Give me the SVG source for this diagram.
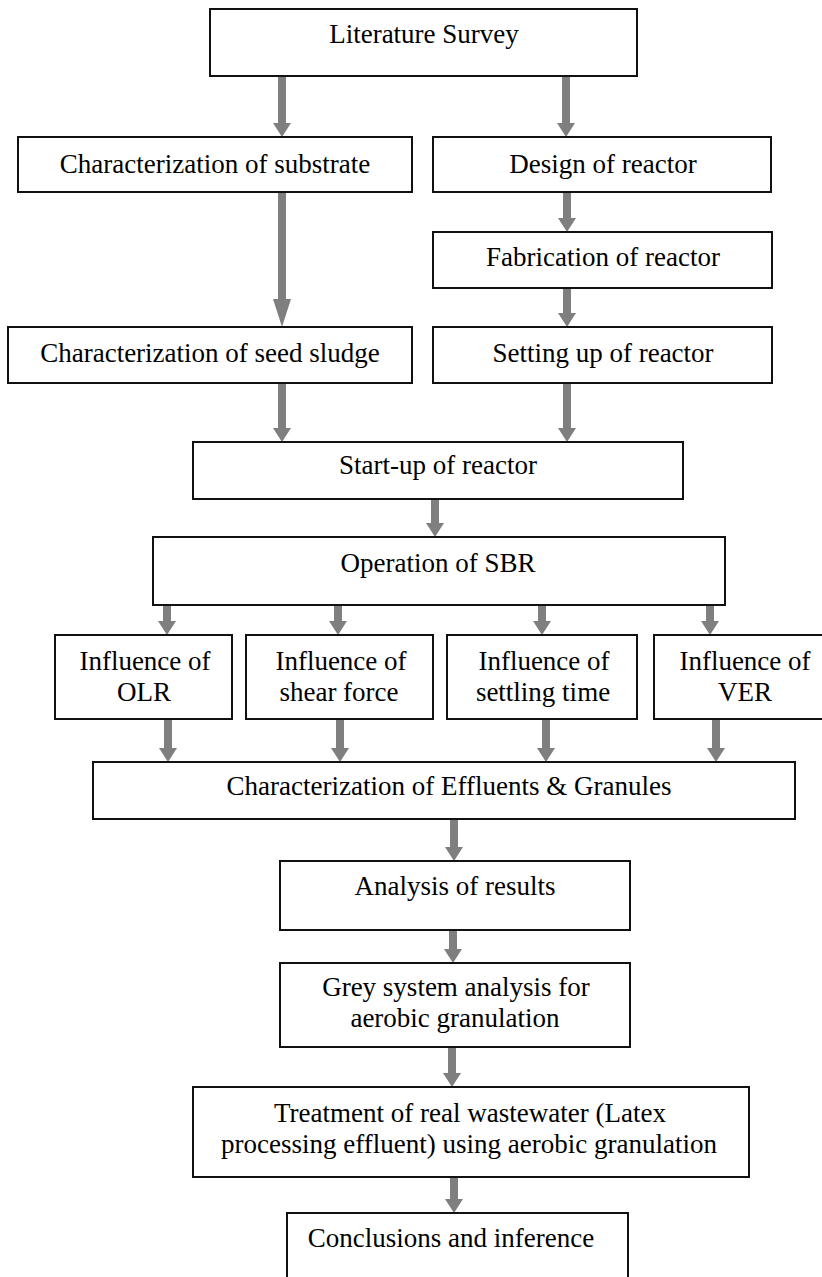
<svg xmlns="http://www.w3.org/2000/svg" width="822" height="1277" viewBox="0 0 822 1277">
<style>
.box{fill:#fff;stroke:#111;stroke-width:2}
.t{font-family:"Liberation Serif","Times New Roman",serif;font-size:27px;fill:#000;text-anchor:middle}
.arr{stroke:#7f7f7f;stroke-width:8;fill:none;marker-end:url(#ah)}
.arrL{stroke:#7f7f7f;stroke-width:8;fill:none;marker-end:url(#ahL)}
</style>
<defs>
<marker id="ah" markerUnits="userSpaceOnUse" viewBox="0 0 14 18" refX="0" refY="9" markerWidth="14" markerHeight="18" orient="auto"><path d="M0,0 L14,9 L0,18 Z" fill="#7f7f7f"/></marker>
<marker id="ahL" markerUnits="userSpaceOnUse" viewBox="0 0 28 18" refX="0" refY="9" markerWidth="28" markerHeight="18" orient="auto"><path d="M0,0 L28,9 L0,18 Z" fill="#7f7f7f"/></marker>
</defs>
<rect width="822" height="1277" fill="#fff"/>
<g id="connectors">
<line class="arr" x1="282" y1="76" x2="282" y2="123"/>
<line class="arr" x1="566" y1="76" x2="566" y2="123"/>
<line class="arrL" x1="282" y1="192" x2="282" y2="299"/>
<line class="arr" x1="567" y1="192" x2="567" y2="218"/>
<line class="arr" x1="567" y1="288" x2="567" y2="313"/>
<line class="arr" x1="282" y1="383" x2="282" y2="428"/>
<line class="arr" x1="567" y1="383" x2="567" y2="428"/>
<line class="arr" x1="435" y1="499" x2="435" y2="523"/>
<line class="arr" x1="167" y1="605" x2="167" y2="621"/>
<line class="arr" x1="338" y1="605" x2="338" y2="621"/>
<line class="arr" x1="542" y1="605" x2="542" y2="621"/>
<line class="arr" x1="710" y1="605" x2="710" y2="621"/>
<line class="arr" x1="168" y1="719" x2="168" y2="748"/>
<line class="arr" x1="340" y1="719" x2="340" y2="748"/>
<line class="arr" x1="546" y1="719" x2="546" y2="748"/>
<line class="arr" x1="716" y1="719" x2="716" y2="748"/>
<line class="arr" x1="454" y1="819" x2="454" y2="847"/>
<line class="arr" x1="453" y1="930" x2="453" y2="949"/>
<line class="arr" x1="452" y1="1047" x2="452" y2="1073"/>
<line class="arr" x1="454" y1="1177" x2="454" y2="1199"/>
</g>
<g id="literature"><rect class="box" x="210" y="9" width="427" height="67"/><text class="t" x="424" y="43">Literature Survey</text></g>
<g id="substrate"><rect class="box" x="18" y="137" width="394" height="55"/><text class="t" x="215" y="173">Characterization of substrate</text></g>
<g id="design"><rect class="box" x="433" y="137" width="338" height="55"/><text class="t" x="603" y="173">Design of reactor</text></g>
<g id="fabrication"><rect class="box" x="433" y="232" width="339" height="56"/><text class="t" x="603" y="266">Fabrication of reactor</text></g>
<g id="seed"><rect class="box" x="8" y="327" width="404" height="56"/><text class="t" x="210" y="362">Characterization of seed sludge</text></g>
<g id="setting"><rect class="box" x="433" y="327" width="339" height="56"/><text class="t" x="603" y="362">Setting up of reactor</text></g>
<g id="startup"><rect class="box" x="193" y="442" width="490" height="57"/><text class="t" x="438" y="474">Start-up of reactor</text></g>
<g id="operation"><rect class="box" x="153" y="537" width="572" height="68"/><text class="t" x="438" y="572">Operation of SBR</text></g>
<g id="olr"><rect class="box" x="55" y="635" width="177" height="84"/><text class="t" x="145" y="670">Influence of</text><text class="t" x="144" y="701">OLR</text></g>
<g id="shear"><rect class="box" x="246" y="635" width="187" height="84"/><text class="t" x="341" y="670">Influence of</text><text class="t" x="339" y="701">shear force</text></g>
<g id="settling"><rect class="box" x="447" y="635" width="190" height="84"/><text class="t" x="544" y="670">Influence of</text><text class="t" x="543" y="701">settling time</text></g>
<g id="ver"><rect class="box" x="654" y="635" width="180" height="84"/><text class="t" x="745" y="670">Influence of</text><text class="t" x="745" y="701">VER</text></g>
<g id="effluents"><rect class="box" x="93" y="762" width="702" height="57"/><text class="t" x="449" y="795">Characterization of Effluents &amp; Granules</text></g>
<g id="analysis"><rect class="box" x="280" y="861" width="350" height="69"/><text class="t" x="455" y="895">Analysis of results</text></g>
<g id="grey"><rect class="box" x="280" y="963" width="350" height="84"/><text class="t" x="456" y="996">Grey system analysis for</text><text class="t" x="455" y="1027">aerobic granulation</text></g>
<g id="treatment"><rect class="box" x="193" y="1087" width="556" height="90"/><text class="t" x="470" y="1122">Treatment of real wastewater (Latex</text><text class="t" x="469" y="1153">processing effluent) using aerobic granulation</text></g>
<g id="conclusions"><rect class="box" x="287" y="1213" width="341" height="80"/><text class="t" x="451" y="1247">Conclusions and inference</text></g>
</svg>
